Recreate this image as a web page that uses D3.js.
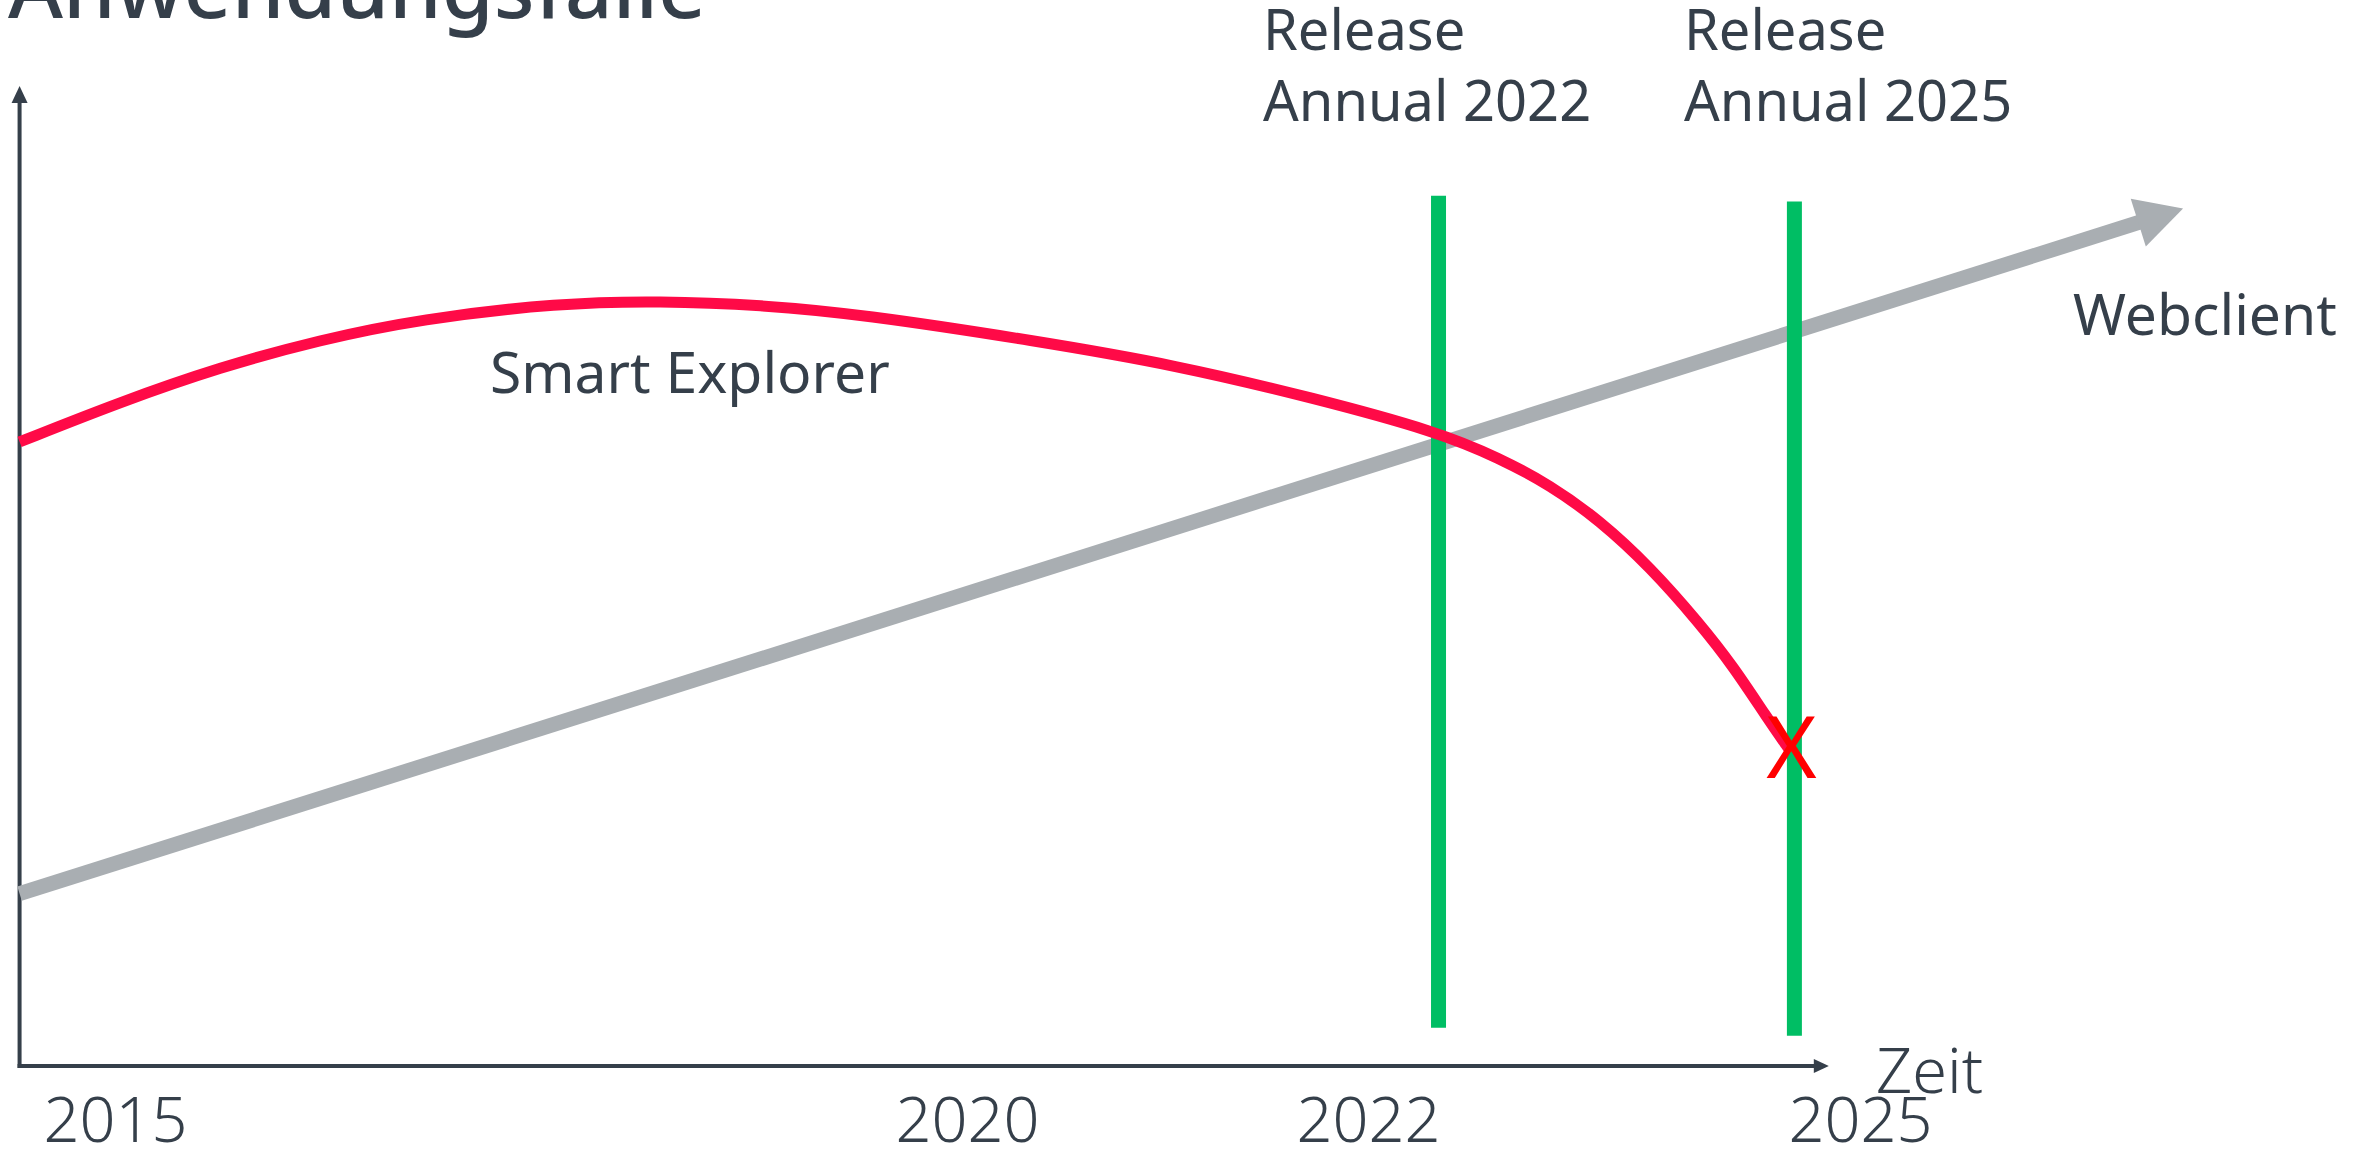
<!DOCTYPE html>
<html>
<head>
<meta charset="utf-8">
<script src="https://cdn.jsdelivr.net/npm/d3@7/dist/d3.min.js"></script>
<style>
  html, body { margin: 0; padding: 0; background: #ffffff; }
  svg { display: block; }
  text { font-family: "Noto Sans", "Open Sans", sans-serif; fill: #333d47; }
</style>
</head>
<body>
<svg id="chart" width="2364" height="1149"></svg>
<script>
// ---- data ----
const title = "Anwendungsfälle";
const tickYears = [2015, 2020, 2022, 2025];
const tickLabels = ["2015", "2020", "2022", "2025"];
const axisStartYear = 2014.44;
const axisEndYear = 2024.81;
const xAxisLabel = "Zeit";

const smartExplorerYears  = [2014.44, 2015.03, 2015.62, 2016.20, 2016.79, 2017.61, 2018.20, 2018.79, 2019.37, 2020.35, 2021.04, 2021.73, 2022.43, 2022.80, 2023.11, 2023.41, 2023.72, 2024.02, 2024.23, 2024.43, 2024.57];
const smartExplorerValues = [63.74,   67.82,   71.40,   74.16,   76.30,   77.94,   78.14,   77.73,   76.81,   74.05,   71.60,   68.23,   64.76,   62.10,   59.35,   55.77,   50.97,   45.25,   40.76,   35.65,   32.28];
const smartExplorerLabel = "Smart Explorer";

const webclientYears  = [2014.44, 2026.97];
const webclientValues = [17.6, 87.6];
const webclientLabel = "Webclient";

const releaseYears   = [2022.43, 2024.60];
const releaseTop     = [88.9, 88.3];
const releaseBottom  = [3.9, 3.1];
const releaseLabels  = [["Release", "Annual 2022"], ["Release", "Annual 2025"]];

const endMarkLabel = "X";

// ---- layout ----
const svg = d3.select("#chart");
const x = d3.scaleLinear().domain(tickYears).range([115, 967, 1368, 1860]);
const y = d3.scaleLinear().domain([0, 100]).range([1066, 87]);

const dark = "#353f4a";

// title
svg.append("text").attr("x", 8).attr("y", 18)
  .attr("font-size", 84).attr("font-weight", 500)
  .style("fill", dark).text(title);

// axes lines with arrowheads
const x0 = x(axisStartYear);
svg.append("line").attr("x1", x0).attr("x2", x0).attr("y1", y(0) + 2).attr("y2", y(100) + 14)
  .attr("stroke", dark).attr("stroke-width", 4);
svg.append("path")
  .attr("d", `M${x0},${y(100) - 1} L${x0 - 8},${y(100) + 16} L${x0 + 8},${y(100) + 16} Z`)
  .attr("fill", dark);

const xe = x(axisEndYear);
svg.append("line").attr("x1", x0 - 2).attr("x2", xe - 12).attr("y1", y(0)).attr("y2", y(0))
  .attr("stroke", dark).attr("stroke-width", 4);
svg.append("path")
  .attr("d", `M${xe},${y(0)} L${xe - 15},${y(0) - 7} L${xe - 15},${y(0) + 7} Z`)
  .attr("fill", dark);

// tick labels through a d3 axis
const axis = d3.axisBottom(x).tickValues(tickYears)
  .tickFormat((d, i) => tickLabels[i]).tickSize(0);
const ag = svg.append("g").attr("transform", `translate(0,${y(0)})`).call(axis);
ag.select(".domain").remove();
ag.selectAll("text")
  .attr("y", 76).attr("dy", 0)
  .attr("font-size", 63).attr("font-family", "Noto Sans")
  .style("fill", dark).style("font-weight", 300);

svg.append("text").attr("x", 1876).attr("y", 1093)
  .attr("font-size", 63).style("font-weight", 300).style("fill", dark).text(xAxisLabel);

// webclient line (gray arrow)
const wx1 = x(webclientYears[0]), wy1 = y(webclientValues[0]);
const wx2 = x(webclientYears[1]), wy2 = y(webclientValues[1]);
const len = Math.hypot(wx2 - wx1, wy2 - wy1);
const ux = (wx2 - wx1) / len, uy = (wy2 - wy1) / len;
const nx = -uy, ny = ux;
const headLen = 47, headHalf = 25;
const bx = wx2 - headLen * ux, by = wy2 - headLen * uy;
svg.append("line")
  .attr("x1", wx1).attr("y1", wy1).attr("x2", bx + 4 * ux).attr("y2", by + 4 * uy)
  .attr("stroke", "#a9aeb2").attr("stroke-width", 15);
svg.append("path")
  .attr("d", `M${wx2},${wy2} L${bx + headHalf * nx},${by + headHalf * ny} L${bx - headHalf * nx},${by - headHalf * ny} Z`)
  .attr("fill", "#a9aeb2");

// release lines
releaseYears.forEach((yr, i) => {
  svg.append("line")
    .attr("x1", x(yr)).attr("x2", x(yr))
    .attr("y1", y(releaseTop[i])).attr("y2", y(releaseBottom[i]))
    .attr("stroke", "#00be64").attr("stroke-width", 15);
});

// smart explorer curve
const pts = smartExplorerYears.map((yr, i) => [x(yr), y(smartExplorerValues[i])]);
svg.append("path")
  .attr("d", d3.line().curve(d3.curveBasis)(pts))
  .attr("fill", "none").attr("stroke", "#ff0a47").attr("stroke-width", 11);

// end mark
const last = pts[pts.length - 1];
svg.append("text").attr("x", last[0] + 2).attr("y", last[1] + 28)
  .attr("text-anchor", "middle")
  .attr("font-size", 86).style("font-weight", 400)
  .style("fill", "#ff0000").text(endMarkLabel);

// labels
svg.append("text").attr("x", 490).attr("y", 393).attr("font-size", 57).style("fill", dark).text(smartExplorerLabel);
svg.append("text").attr("x", 2073).attr("y", 335).attr("font-size", 57).style("fill", dark).text(webclientLabel);

const relLabelX = [1263, 1684];
releaseLabels.forEach((lines, i) => {
  const t = svg.append("text").attr("x", relLabelX[i]).attr("y", 50).attr("font-size", 56).style("fill", dark);
  lines.forEach((s, j) => {
    t.append("tspan").attr("x", relLabelX[i]).attr("y", 50 + j * 71).text(s);
  });
});
</script>
</body>
</html>
